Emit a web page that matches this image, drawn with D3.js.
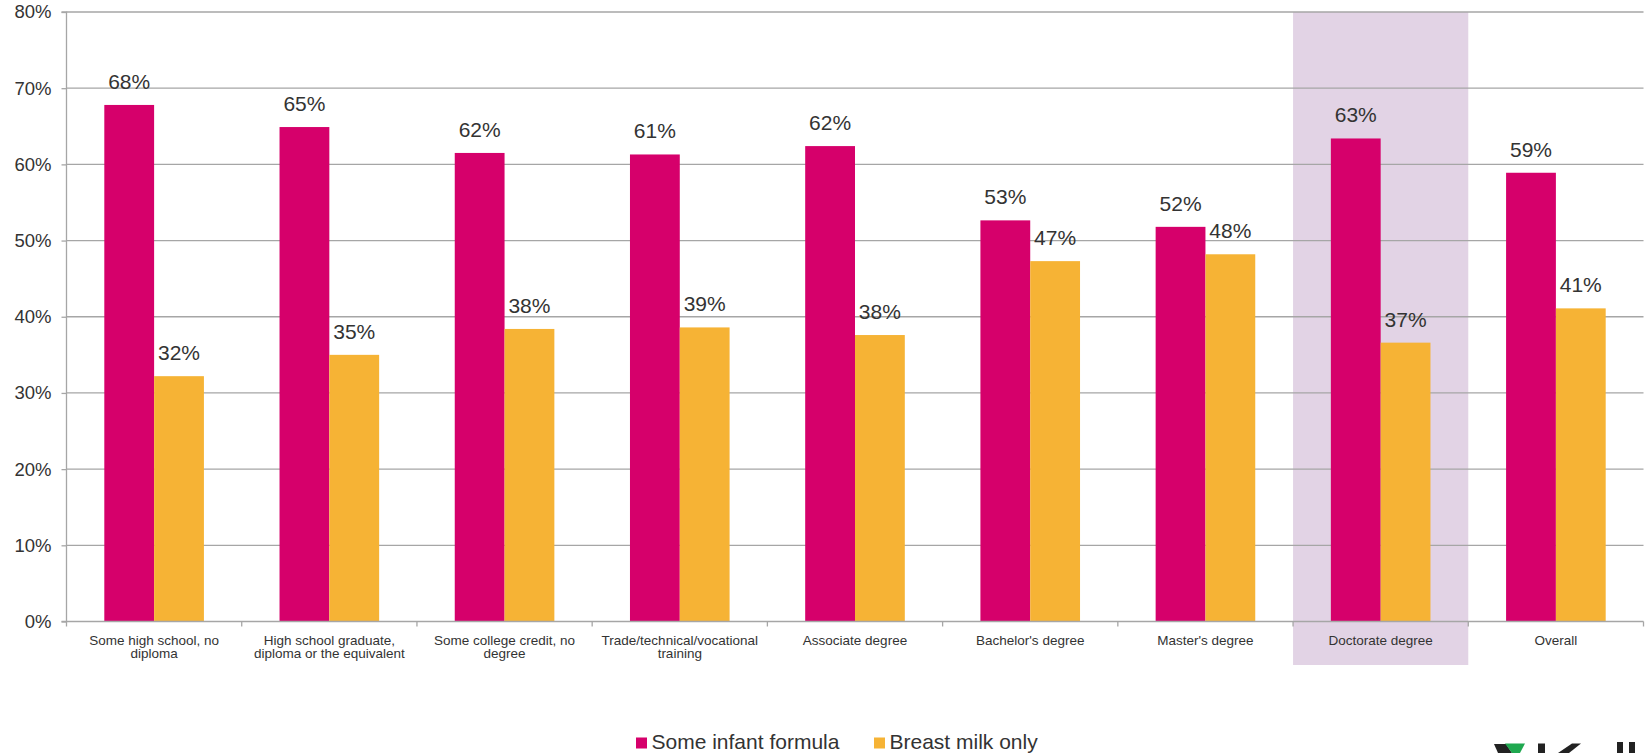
<!DOCTYPE html>
<html>
<head>
<meta charset="utf-8">
<script src="https://cdn.jsdelivr.net/npm/d3@7"></script>
<style>
  html, body { margin: 0; padding: 0; background: #fff; }
  svg { display: block; font-family: "Liberation Sans", Arial, sans-serif; }
</style>
</head>
<body>
<svg id="chart" width="1646" height="753"></svg>
<script>
// ---- data ----
const categories = [
  "Some high school, no diploma",
  "High school graduate, diploma or the equivalent",
  "Some college credit, no degree",
  "Trade/technical/vocational training",
  "Associate degree",
  "Bachelor's degree",
  "Master's degree",
  "Doctorate degree",
  "Overall"
];
const seriesNames = ["Some infant formula", "Breast milk only"];
const someInfantFormula = [67.8, 64.9, 61.5, 61.3, 62.4, 52.65, 51.8, 63.4, 58.9];
const breastMilkOnly    = [32.2, 35.0, 38.4, 38.6, 37.6, 47.3, 48.2, 36.6, 41.1];
const yTicks = [0, 10, 20, 30, 40, 50, 60, 70, 80];
const highlighted = "Doctorate degree";
const seriesColors = ["#d6006b", "#f6b335"];

// ---- layout ----
const svg = d3.select("#chart");
const mLeft = 66.5, mRight = 1643.5, mTop = 12, mBottom = 621.5;
const textColor = "#333333";
const gridColor = "#a6a6a6";

const x = d3.scaleBand().domain(categories).range([mLeft, mRight]).paddingInner(0).paddingOuter(0);
const xs = d3.scaleBand().domain(seriesNames).range([0, x.bandwidth()]).paddingInner(0).paddingOuter(0.759);
const y = d3.scaleLinear().domain([0, 80]).range([mBottom, mTop]);

const seriesValues = [someInfantFormula, breastMilkOnly];
const rows = categories.map((c, i) => ({ cat: c, vals: seriesNames.map((s, j) => ({ s, j, v: seriesValues[j][i] })) }));

// highlight band
svg.append("rect")
  .attr("x", x(highlighted))
  .attr("y", y(80))
  .attr("width", x.bandwidth())
  .attr("height", 665 - y(80))
  .attr("fill", "#e2d3e5");

// gridlines
svg.append("g").selectAll("line").data(yTicks.filter(t => t > 0)).join("line")
  .attr("x1", mLeft).attr("x2", mRight)
  .attr("y1", d => y(d)).attr("y2", d => y(d))
  .attr("stroke", gridColor).attr("stroke-width", 1.3);

// bars
const groups = svg.append("g").selectAll("g").data(rows).join("g")
  .attr("transform", d => `translate(${x(d.cat)},0)`);
groups.selectAll("rect").data(d => d.vals).join("rect")
  .attr("x", d => xs(d.s))
  .attr("y", d => y(d.v))
  .attr("width", xs.bandwidth())
  .attr("height", d => y(0) - y(d.v))
  .attr("fill", d => seriesColors[d.j]);

// value labels
groups.selectAll("text").data(d => d.vals).join("text")
  .attr("x", d => xs(d.s) + xs.bandwidth() / 2)
  .attr("y", d => y(d.v) - 16)
  .attr("text-anchor", "middle")
  .attr("font-size", 21)
  .attr("fill", textColor)
  .text(d => Math.round(d.v) + "%");

// y axis
const yAxis = d3.axisLeft(y).tickValues(yTicks).tickSize(5).tickPadding(10).tickFormat(d => d + "%");
const yg = svg.append("g").attr("transform", `translate(${mLeft},0)`).call(yAxis);
yg.select(".domain").attr("stroke", gridColor).attr("stroke-width", 1.3).attr("d", `M-5,${mTop}H0V${mBottom}H-5`);
yg.selectAll(".tick line").attr("stroke", gridColor).attr("stroke-width", 1.3);
yg.selectAll(".tick text").attr("font-size", 18.5).attr("fill", textColor)
  .attr("font-family", "Liberation Sans, Arial, sans-serif");

// x axis
const boundaries = categories.map(c => x(c)).concat([mRight]);
svg.append("line").attr("x1", mLeft).attr("x2", mRight).attr("y1", mBottom).attr("y2", mBottom)
  .attr("stroke", gridColor).attr("stroke-width", 1.3);
svg.append("g").selectAll("line").data(boundaries).join("line")
  .attr("x1", d => d).attr("x2", d => d).attr("y1", mBottom).attr("y2", mBottom + 5)
  .attr("stroke", gridColor).attr("stroke-width", 1.3);

// x labels with wrapping
const xl = svg.append("g").selectAll("text").data(categories).join("text")
  .attr("text-anchor", "middle")
  .attr("font-size", 13.5)
  .attr("fill", textColor)
  .attr("x", d => x(d) + x.bandwidth() / 2)
  .attr("y", 644.5);
xl.each(function(d) {
  const t = d3.select(this);
  const words = d.split(" ");
  const maxW = 162;
  let lines = [], line = [];
  const tmp = t.append("tspan");
  words.forEach(w => {
    const test = line.concat([w]).join(" ");
    tmp.text(test);
    if (tmp.node().getComputedTextLength() > maxW && line.length) {
      lines.push(line.join(" "));
      line = [w];
    } else {
      line.push(w);
    }
  });
  lines.push(line.join(" "));
  tmp.remove();
  lines.forEach((l, i) => {
    t.append("tspan").attr("x", x(d) + x.bandwidth() / 2).attr("dy", i === 0 ? 0 : 13).text(l);
  });
});

// legend
const legendX = [636, 874];
const lg = svg.append("g").selectAll("g").data(seriesNames).join("g")
  .attr("transform", (d, i) => `translate(${legendX[i]},0)`);
lg.append("rect").attr("x", 0).attr("y", 737.5).attr("width", 11).attr("height", 11)
  .attr("fill", (d, i) => seriesColors[i]);
lg.append("text").attr("x", 15.5).attr("y", 748.8).attr("font-size", 21).attr("fill", textColor).text(d => d);

// partial logo (bottom-right corner, clipped by frame)
const logo = svg.append("g");
logo.append("path").attr("d", "M1494,744 L1506,744 L1512,753 L1498,753 Z").attr("fill", "#222");
logo.append("path").attr("d", "M1505,743.5 L1525,743.5 L1520,753 L1512,753 Z").attr("fill", "#1fa84f");
logo.append("rect").attr("x", 1538).attr("y", 743.5).attr("width", 7).attr("height", 10).attr("fill", "#222");
logo.append("path").attr("d", "M1572,743.5 L1581,743.5 L1569,753 L1558,753 Z").attr("fill", "#222");
logo.append("rect").attr("x", 1617).attr("y", 742).attr("width", 6).attr("height", 11).attr("fill", "#222");
logo.append("rect").attr("x", 1629).attr("y", 742).attr("width", 6).attr("height", 11).attr("fill", "#222");
</script>
</body>
</html>
